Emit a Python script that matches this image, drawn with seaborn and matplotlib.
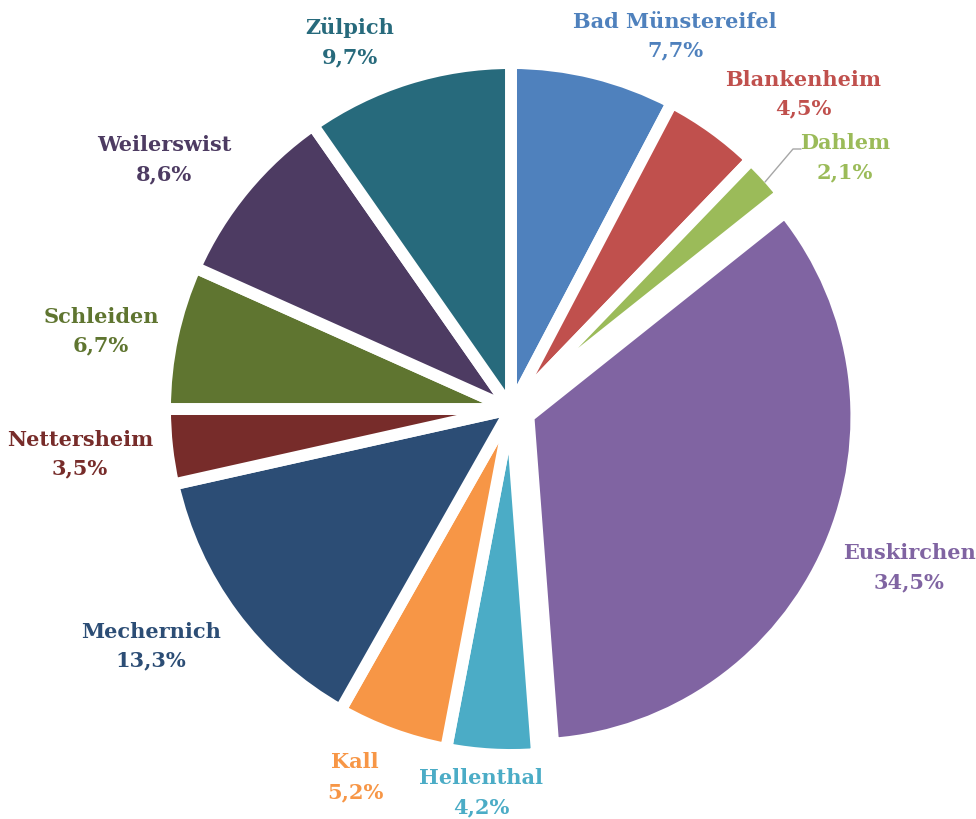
import matplotlib
matplotlib.use("Agg")
import matplotlib.pyplot as plt
import seaborn as sns

# Share of population per municipality, Kreis Euskirchen (clockwise from top)
towns = ["Bad Münstereifel", "Blankenheim", "Dahlem", "Euskirchen", "Hellenthal",
         "Kall", "Mechernich", "Nettersheim", "Schleiden", "Weilerswist", "Zülpich"]
shares = [7.7, 4.5, 2.1, 34.5, 4.2, 5.2, 13.3, 3.5, 6.7, 8.6, 9.7]
pct_labels = ["7,7%", "4,5%", "2,1%", "34,5%", "4,2%", "5,2%", "13,3%", "3,5%",
              "6,7%", "8,6%", "9,7%"]

sns.set_theme(style="white")
palette = sns.color_palette(["#4F81BD", "#C0504D", "#9BBB59", "#8064A2", "#4BACC6",
                             "#F79646", "#2C4D75", "#772C2A", "#5F7530", "#4D3B62",
                             "#276A7C"])
plt.rcParams["font.family"] = ["DejaVu Serif"]

W, H = 976, 819
fig = plt.figure(figsize=(W / 100, H / 100), dpi=100)
ax = fig.add_axes([0, 0, 1, 1])

cx, cy, R = 511, H - 409, 346
# pie() takes the explode offset in data units (pixels here)
explode = [19 if t == "Euskirchen" else 0 for t in towns]
wedges, _ = ax.pie(shares, colors=palette, startangle=90, counterclock=False,
                   center=(cx, cy), radius=R, explode=explode,
                   wedgeprops=dict(edgecolor="white", linewidth=8.6,
                                   joinstyle="round"))
# the pulled-out slice is drawn a little smaller than the rest
wedges[towns.index("Euskirchen")].set_radius(328)

ax.set_xlim(0, W)
ax.set_ylim(0, H)
ax.set_aspect("equal")
ax.axis("off")

# label block positions (centre x, name y, percent y), measured from the top edge
label_pos = {
    "Bad Münstereifel": (675, 22, 50),
    "Blankenheim": (803, 80, 108),
    "Dahlem": (845, 143, 172),
    "Euskirchen": (909, 553, 582),
    "Hellenthal": (481, 778, 807),
    "Kall": (355, 762, 792),
    "Mechernich": (151, 632, 660),
    "Nettersheim": (80, 440, 468),
    "Schleiden": (101, 317, 345),
    "Weilerswist": (164, 145, 174),
    "Zülpich": (350, 28, 57),
}
for town, pct, col in zip(towns, pct_labels, palette):
    x, y1, y2 = label_pos[town]
    ax.text(x, H - y1, town, ha="center", va="center", color=col,
            fontsize=15, fontweight="bold")
    ax.text(x, H - y2, pct, ha="center", va="center", color=col,
            fontsize=15, fontweight="bold")

# leader line for the small Dahlem slice
ax.plot([801, 793, 765], [H - 149, H - 149, H - 182], color="#A6A6A6", lw=1)

fig.savefig("out.png", dpi=100, facecolor="white")
